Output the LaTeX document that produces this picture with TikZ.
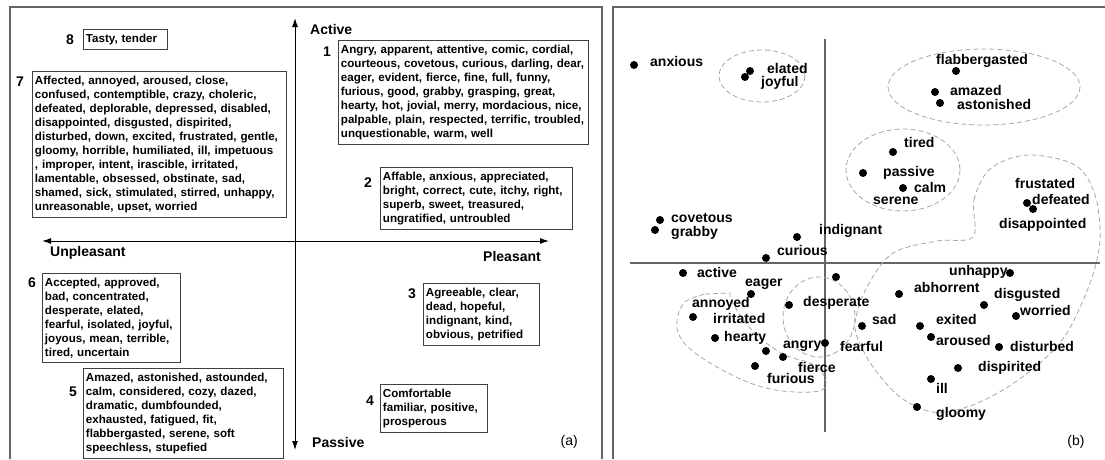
\documentclass[tikz,border=0pt]{standalone}
\usepackage{fontspec}
\setmainfont{Liberation Sans}
\usepackage{tikz}
\usetikzlibrary{arrows.meta,calc}
\hyphenpenalty=10000
\exhyphenpenalty=10000

\begin{document}
\begin{tikzpicture}[x=1pt, y=-1pt,
    frame/.style={draw=black!60, line width=1.2pt},
    axis/.style={line width=1pt, {Latex[length=9pt,width=6pt]}-{Latex[length=9pt,width=6pt]}},
    axisb/.style={draw=black!60, line width=1.2pt},
    words/.style={draw=black!75, line width=0.9pt, align=left, anchor=north west,
        inner xsep=2.5pt, inner ysep=4.5pt, font=\fontsize{11.6}{14}\selectfont\bfseries},
    num/.style={font=\fontsize{14}{14}\selectfont\bfseries, inner sep=0pt},
    axlbl/.style={font=\fontsize{14}{14}\selectfont\bfseries, inner sep=0pt},
    dot/.style={circle, fill=black, inner sep=0pt, minimum size=8pt},
    lbl/.style={font=\fontsize{14}{14}\selectfont\bfseries, inner sep=0pt, anchor=west},
    group/.style={draw=black!35, line width=0.8pt, dash pattern=on 5pt off 3pt}
]
\useasboundingbox (0,0) rectangle (1105,459);

% panel frames
\draw[frame] (10,459) -- (10,7) -- (602,7) -- (602,459);
\draw[frame] (613,459) -- (613,7) -- (1105,7);

%%% (a) word classes
\coordinate (top) at (295,18);
\coordinate (bottom) at (295,450);
\coordinate (left) at (42,241);
\coordinate (right) at (549,241);
\draw[axis] (bottom) -- (top);
\draw[axis] (left) -- (right);

\node[axlbl, anchor=west] (active) at (310,29) {Active};
\node[axlbl, anchor=west] (passive) at (312,442) {Passive};
\node[axlbl, anchor=west] (unpleasant) at (50,253) {Unpleasant};
\node[axlbl, anchor=east] (pleasant) at (541,256) {Pleasant};
\node[inner sep=0pt, anchor=east, font=\fontsize{14}{14}\selectfont] (tag a) at (578,442) {(a)};

\node[words, text width=79pt] (c8) at (83,29) {Tasty, tender};
\node[words, text width=249pt] (c7) at (32,71) {Affected, annoyed, aroused, close,\\
    confused, contemptible, crazy, choleric,\\
    defeated, deplorable, depressed, disabled,\\
    disappointed, disgusted, dispirited,\\
    disturbed, down, excited, frustrated, gentle,\\
    gloomy, horrible, humiliated, ill, impetuous\\
    , improper, intent, irascible, irritated,\\
    lamentable, obsessed, obstinate, sad,\\
    shamed, sick, stimulated, stirred, unhappy,\\
    unreasonable, upset, worried};
\node[words, text width=245pt] (c1) at (338,40) {Angry, apparent, attentive, comic, cordial,\\
    courteous, covetous, curious, darling, dear,\\
    eager, evident, fierce, fine, full, funny,\\
    furious, good, grabby, grasping, great,\\
    hearty, hot, jovial, merry, mordacious, nice,\\
    palpable, plain, respected, terrific, troubled,\\
    unquestionable, warm, well};
\node[words, text width=187pt] (c2) at (380,167) {Affable, anxious, appreciated,\\
    bright, correct, cute, itchy, right,\\
    superb, sweet, treasured,\\
    ungratified, untroubled};
\node[words, text width=133pt] (c6) at (42,273) {Accepted, approved,\\
    bad, concentrated,\\
    desperate, elated,\\
    fearful, isolated, joyful,\\
    joyous, mean, terrible,\\
    tired, uncertain};
\node[words, text width=195pt] (c5) at (83,368) {Amazed, astonished, astounded,\\
    calm, considered, cozy, dazed,\\
    dramatic, dumbfounded,\\
    exhausted, fatigued, fit,\\
    flabbergasted, serene, soft\\
    speechless, stupefied};
\node[words, text width=111pt] (c3) at (423,283) {Agreeable, clear,\\
    dead, hopeful,\\
    indignant, kind,\\
    obvious, petrified};
\node[words, text width=102pt] (c4) at (380,384) {Comfortable\\
    familiar, positive,\\
    prosperous};

\node[num] (n8) at ($(c8.north west) + (-13,11)$) {8};
\node[num] (n7) at ($(c7.north west) + (-12,11)$) {7};
\node[num] (n1) at ($(c1.north west) + (-11,12)$) {1};
\node[num] (n2) at ($(c2.north west) + (-12,16)$) {2};
\node[num] (n3) at ($(c3.north west) + (-11,11)$) {3};
\node[num] (n4) at ($(c4.north west) + (-10,17)$) {4};
\node[num] (n5) at ($(c5.north west) + (-10,24)$) {5};
\node[num] (n6) at ($(c6.north west) + (-10,10)$) {6};

%%% (b) map of the words
\coordinate (bt) at (825,39);
\coordinate (bb) at (825,432);
\coordinate (bl) at (630,263);
\coordinate (br) at (1100,263);
\draw[axisb] (bt) -- (bb);
\draw[axisb] (bl) -- (br);

% groups
\draw[group] (762,76) ellipse [x radius=43, y radius=26];
\draw[group] (984,87) ellipse [x radius=96, y radius=38];
\draw[group] (903,170) ellipse [x radius=57, y radius=41];
\draw[group] (819,317) ellipse [x radius=36, y radius=40];
\draw[group] (705,294) -- (730,293) -- (730,298)
    -- plot[smooth, tension=0.6] coordinates {(730,298) (742,318) (760,338) (785,355) (812,364)
    (825,378) (822,390) (795,392) (762,387) (728,373) (695,353) (680,337) (677,320) (685,302) (705,294)};
\draw[group] plot[smooth cycle, tension=0.55] coordinates {(973,237) (974,200) (990,169) (1027,155)
    (1075,165) (1095,195) (1100,240) (1090,283) (1067,333) (1040,363) (1003,390) (967,407)
    (933,412) (900,397) (873,367) (857,337) (856,317) (868,285) (893,253) (937,241)};

% points
\node[dot] (p anxious) at (634,65) {};
\node[dot] (p elated) at (750,71) {};
\node[dot] (p joyful) at (745,77) {};
\node[dot] (p flabbergasted) at (956,71) {};
\node[dot] (p amazed) at (935,92) {};
\node[dot] (p astonished) at (940,103) {};
\node[dot] (p tired) at (893,152) {};
\node[dot] (p passive) at (863,173) {};
\node[dot] (p calm) at (903,188) {};
\node[dot] (p frustated) at (1027,203) {};
\node[dot] (p defeated) at (1033,209) {};
\node[dot] (p covetous) at (660,220) {};
\node[dot] (p grabby) at (655,230) {};
\node[dot] (p indignant) at (797,237) {};
\node[dot] (p curious) at (766,258) {};
\node[dot] (p active) at (683,273) {};
\node[dot] (p x) at (836,277) {};
\node[dot] (p unhappy) at (1010,273) {};
\node[dot] (p eager) at (751,294) {};
\node[dot] (p abhorrent) at (899,294) {};
\node[dot] (p desperate) at (789,305) {};
\node[dot] (p disgusted) at (984,305) {};
\node[dot] (p annoyed) at (693,317) {};
\node[dot] (p worried) at (1016,316) {};
\node[dot] (p sad) at (862,326) {};
\node[dot] (p exited) at (920,326) {};
\node[dot] (p aroused) at (931,337) {};
\node[dot] (p hearty) at (715,338) {};
\node[dot] (p fearful) at (825,343) {};
\node[dot] (p disturbed) at (999,347) {};
\node[dot] (p angry) at (766,351) {};
\node[dot] (p fierce) at (783,357) {};
\node[dot] (p furious) at (755,366) {};
\node[dot] (p dispirited) at (958,368) {};
\node[dot] (p ill) at (931,379) {};
\node[dot] (p gloomy) at (917,407) {};

% words
\node[lbl] (anxious) at (650,61) {anxious};
\node[lbl] (elated) at (767,68) {elated};
\node[lbl] (joyful) at (761,83) {joyful};
\node[lbl] (flabbergasted) at (936,61) {flabbergasted};
\node[lbl] (amazed) at (950,90) {amazed};
\node[lbl] (astonished) at (957,104) {astonished};
\node[lbl] (tired) at (904,142) {tired};
\node[lbl] (passive b) at (883,173) {passive};
\node[lbl] (calm) at (914,187) {calm};
\node[lbl] (serene) at (873,201) {serene};
\node[lbl] (frustated) at (1015,183) {frustated};
\node[lbl] (defeated) at (1032,199) {defeated};
\node[lbl] (disappointed) at (999,225) {disappointed};
\node[lbl] (covetous) at (671,218) {covetous};
\node[lbl] (grabby) at (671,233) {grabby};
\node[lbl] (indignant) at (819,231) {indignant};
\node[lbl] (curious) at (777,250) {curious};
\node[lbl] (active b) at (697,272) {active};
\node[lbl] (eager) at (745,284) {eager};
\node[lbl] (annoyed) at (692,304) {annoyed};
\node[lbl] (irritated) at (713,318) {irritated};
\node[lbl] (desperate) at (803,303) {desperate};
\node[lbl] (hearty) at (724,338) {hearty};
\node[lbl] (angry) at (783,346) {angry};
\node[lbl] (fearful) at (840,346) {fearful};
\node[lbl] (fierce) at (798,367) {fierce};
\node[lbl] (furious) at (767,378) {furious};
\node[lbl] (unhappy) at (949,272) {unhappy};
\node[lbl] (abhorrent) at (914,287) {abhorrent};
\node[lbl] (disgusted) at (994,295) {disgusted};
\node[lbl] (worried) at (1020,310) {worried};
\node[lbl] (sad) at (872,319) {sad};
\node[lbl] (exited) at (936,319) {exited};
\node[lbl] (aroused) at (936,340) {aroused};
\node[lbl] (disturbed) at (1010,346) {disturbed};
\node[lbl] (dispirited) at (978,368) {dispirited};
\node[lbl] (ill) at (936,388) {ill};
\node[lbl] (gloomy) at (936,414) {gloomy};
\node[inner sep=0pt, font=\fontsize{14}{14}\selectfont] (tag b) at (1076,442) {(b)};
\end{tikzpicture}
\end{document}
